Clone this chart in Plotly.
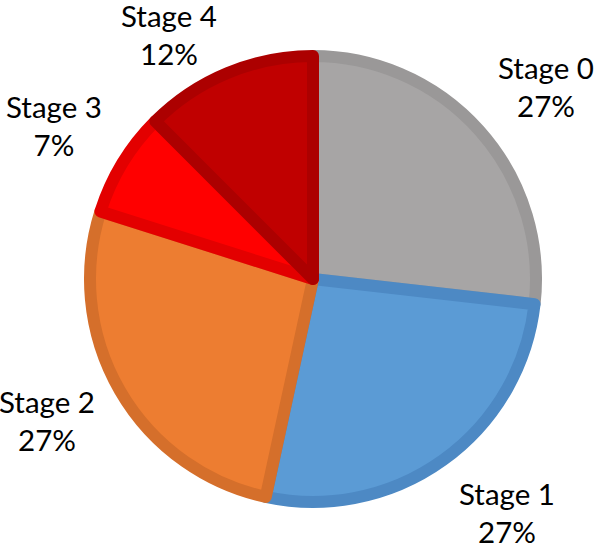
import math
import plotly.graph_objects as go

stages = ['Stage 0', 'Stage 1', 'Stage 2', 'Stage 3', 'Stage 4']
shares = [26.8, 26.6, 26.5, 7.6, 12.5]
share_labels = ['27%', '27%', '27%', '7%', '12%']

fill_colors = ['#A7A5A5', '#5B9BD5', '#ED7D31', '#FF0000', '#C00000']
edge_colors = ['#9A9898', '#4D89C4', '#D56F2B', '#E30000', '#AC0000']

W, H = 595, 549
cx, cy, R = 313, 279, 226   # pie centre / radius in pixels
inset = 9                   # width of the inner border band
label_dist = [1.339, 1.345, 1.334, 1.333, 1.255]   # label distance, in radii
label_turn = [2.2, -4.1, 2.0, -0.6, -7.9]          # nudge off mid-angle, deg


def domain(r):
    return dict(x=[(cx - r) / W, (cx + r) / W],
                y=[(H - cy - r) / H, (H - cy + r) / H])


fig = go.Figure()
# outer pie in the darker border colours
fig.add_trace(go.Pie(
    labels=stages, values=shares, sort=False,
    direction='clockwise', rotation=0,
    marker=dict(colors=edge_colors, line=dict(width=0)),
    textinfo='none',
    domain=domain(R), hoverinfo='skip', showlegend=False,
))
# inner pie in the fill colours, inset from the border
fig.add_trace(go.Pie(
    labels=stages, values=shares, sort=False,
    direction='clockwise', rotation=0,
    marker=dict(colors=fill_colors, line=dict(width=12, color=edge_colors)),
    textinfo='none',
    domain=domain(R - inset + 6), hoverinfo='skip', showlegend=False,
))

# labels outside the pie, along each slice's middle angle
total = sum(shares)
start = 0.0
for name, v, pct, k, turn in zip(stages, shares, share_labels, label_dist, label_turn):
    mid = (start + v / 2) / total * 2 * math.pi + math.radians(turn)
    start += v
    px = cx + k * R * math.sin(mid)
    py = cy - k * R * math.cos(mid)
    fig.add_annotation(
        x=px / W, y=1 - py / H, xref='paper', yref='paper',
        text=name + '<br>' + pct, showarrow=False,
        xanchor='center', yanchor='middle',
        font=dict(family='Lato', size=29.5, color='#000000'),
    )

fig.update_layout(
    width=W, height=H,
    margin=dict(l=0, r=0, t=0, b=0),
    paper_bgcolor='white', plot_bgcolor='white',
    showlegend=False,
)
# drop the default 8px body margin so the figure fills the window
fig.write_html("out.html", config={'displayModeBar': False},
               post_script="document.body.style.margin = '0';")
